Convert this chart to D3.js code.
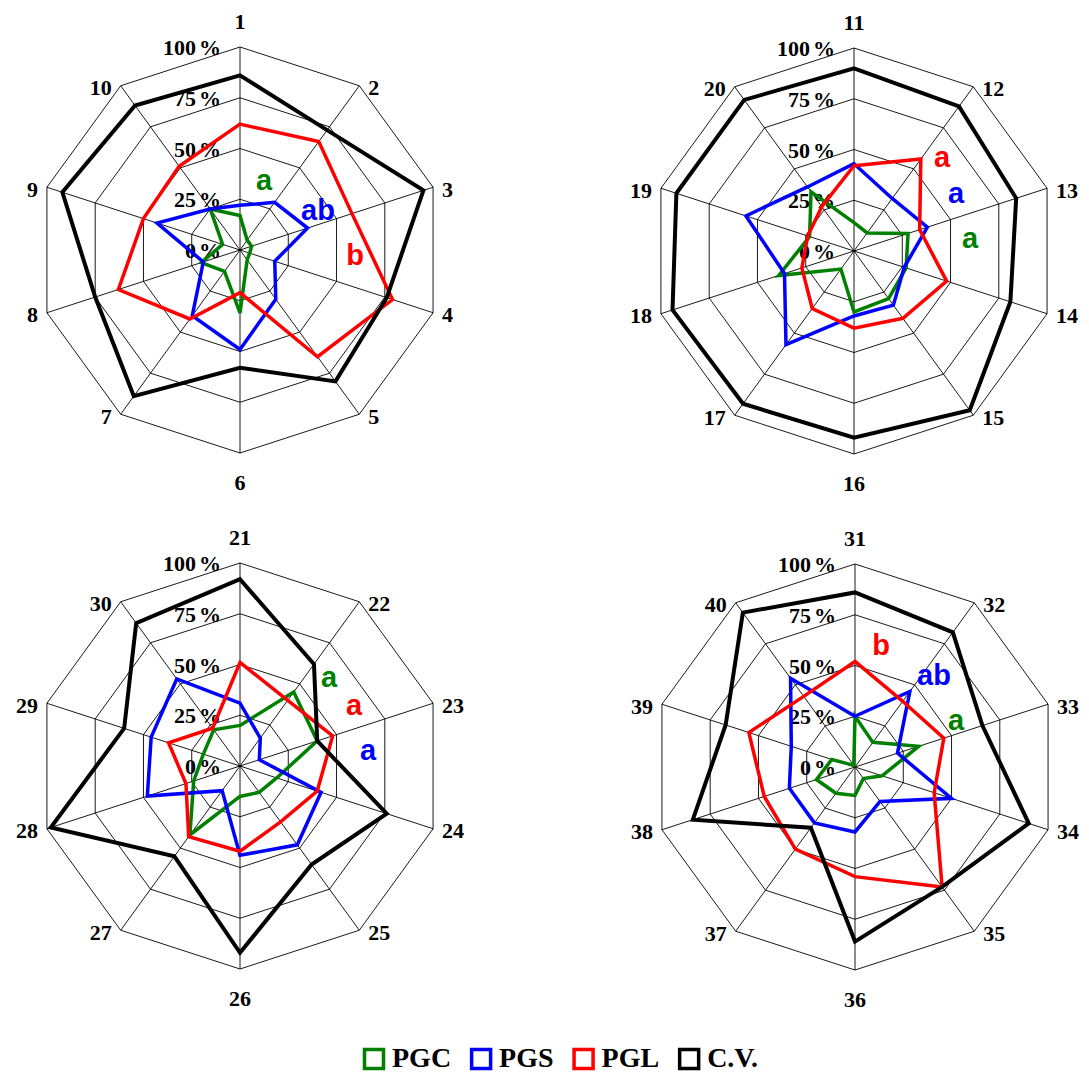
<!DOCTYPE html>
<html>
<head>
<meta charset="utf-8">
<script src="https://cdn.jsdelivr.net/npm/d3@7"></script>
<style>
  body { margin: 0; background: #fff; }
</style>
</head>
<body>
<div id="my_dataviz"></div>
<script>
// values in %, axes clockwise from the top
const series = ['PGC', 'PGS', 'PGL', 'C.V.'];
const levels = [0, 25, 50, 75, 100];

const axes1 = ['1', '2', '3', '4', '5', '6', '7', '8', '9', '10'];
const pgc1 = [17, 6, 6, 5, 6, 31, 13, 20, 9, 25];
const pgs1 = [22, 29, 35, 18, 30, 49, 40, 19, 43, 25];
const pgl1 = [62, 66, 58, 79, 65, 21, 42, 63, 50, 51];
const cv1  = [86, 73, 95, 76, 80, 58, 89, 75, 92, 88];
const letters1 = ['a', 'ab', 'b'];

const axes2 = ['11', '12', '13', '14', '15', '16', '17', '18', '19', '20'];
const pgc2 = [14, 11, 28, 27, 29, 30, 11, 39, 23, 36];
const pgs2 = [43, 32, 38, 26, 33, 32, 57, 36, 56, 39];
const pgl2 = [42, 56, 34, 48, 41, 38, 35, 27, 24, 27];
const cv2  = [90, 88, 84, 81, 97, 92, 93, 94, 92, 92];
const letters2 = ['a', 'a', 'a'];

const axes3 = ['21', '22', '23', '24', '25', '26', '27', '28', '29', '30'];
const pgc3 = [20, 45, 40, 19, 16, 15, 42, 24, 19, 22];
const pgs3 = [31, 17, 10, 42, 48, 44, 15, 48, 46, 53];
const pgl3 = [51, 40, 48, 40, 34, 42, 43, 28, 37, 23];
const cv3  = [92, 62, 40, 76, 60, 92, 55, 98, 60, 87];
const letters3 = ['a', 'a', 'a'];

const axes4 = ['31', '32', '33', '34', '35', '36', '37', '38', '39', '40'];
const pgc4 = [25, 15, 33, 14, 7, 14, 16, 20, 12, 1];
const pgs4 = [25, 46, 22, 50, 21, 32, 34, 34, 33, 54];
const pgl4 = [52, 40, 46, 41, 73, 54, 50, 47, 55, 43];
const cv4  = [86, 82, 66, 90, 73, 86, 37, 84, 67, 94];
const letters4 = ['b', 'ab', 'a'];

// Constant
const width = 1089;
const height = 1074;
const radius = 203;
const serif = `"Liberation Serif", "Times New Roman", serif`;
const sans = `"Liberation Sans", Arial, sans-serif`;
const colorMap = {
    'PGC' : '#008000',
    'PGS' : '#0000ff',
    'PGL' : '#ff0000',
    'C.V.' : '#000000'
};

const rScale = d3.scaleLinear().domain([0, 100]).range([0, radius]);
const aScale = d3.scaleLinear().domain([0, 10]).range([0, 2 * Math.PI]);

// chart centres, letter offsets (letter colour order differs per panel)
const panels = [
    {cx: 240, cy: 250, axes: axes1, values: [pgc1, pgs1, pgl1, cv1], letters: letters1,
     letterColors: ['PGC', 'PGS', 'PGL'], letterPos: [[24, -60], [78, -30], [115, 15]]},
    {cx: 854, cy: 251, axes: axes2, values: [pgc2, pgs2, pgl2, cv2], letters: letters2,
     letterColors: ['PGL', 'PGS', 'PGC'], letterPos: [[88, -84], [102, -48], [116, -3]]},
    {cx: 240, cy: 766, axes: axes3, values: [pgc3, pgs3, pgl3, cv3], letters: letters3,
     letterColors: ['PGC', 'PGL', 'PGS'], letterPos: [[89, -79], [114, -51], [128, -6]]},
    {cx: 855, cy: 767, axes: axes4, values: [pgc4, pgs4, pgl4, cv4], letters: letters4,
     letterColors: ['PGL', 'PGS', 'PGC'], letterPos: [[26, -112], [79, -82], [101, -37]]}
];

const radial = d3.lineRadial()
    .angle((d, i) => aScale(i))
    .radius(d => rScale(d))
    .curve(d3.curveLinearClosed);

const svg = d3.select('#my_dataviz')
    .append('svg')
        .attr('width', width)
        .attr('height', height);

const drawPanel = (p) => {
    const g = svg.append('g')
        .attr('transform', `translate(${p.cx},${p.cy})`);

    // rings
    levels.filter(l => l > 0).forEach(l => {
        g.append('path')
            .attr('d', radial(d3.range(10).map(() => l)))
            .attr('fill', 'none')
            .attr('stroke', '#000')
            .attr('stroke-width', 0.9);
    });

    // spokes
    g.selectAll('.spoke')
        .data(d3.range(10))
        .join('line')
            .attr('class', 'spoke')
            .attr('x1', 0)
            .attr('y1', 0)
            .attr('x2', i => rScale(100) * Math.sin(aScale(i)))
            .attr('y2', i => -rScale(100) * Math.cos(aScale(i)))
            .attr('stroke', '#000')
            .attr('stroke-width', 0.9);

    // axis labels
    g.selectAll('.axisLabel')
        .data(p.axes)
        .join('text')
            .attr('class', 'axisLabel')
            .attr('x', (d, i) => {
                const s = Math.sin(aScale(i));
                const x = rScale(100) * s;
                return Math.abs(s) < 0.1 ? x : x + (s > 0 ? 9 : -9);
            })
            .attr('y', (d, i) => {
                const c = Math.cos(aScale(i));
                const y = -rScale(100) * c;
                if (c > 0.9) return y - 26;
                if (c < -0.9) return y + 29;
                return y + 2;
            })
            .attr('text-anchor', (d, i) => {
                const s = Math.sin(aScale(i));
                return Math.abs(s) < 0.1 ? 'middle' : (s > 0 ? 'start' : 'end');
            })
            .attr('dominant-baseline', 'central')
            .style('font', `bold 22px ${serif}`)
            .text(d => d);

    // level labels
    const lv = g.selectAll('.levelLabel')
        .data(levels)
        .join('text')
            .attr('class', 'levelLabel')
            .attr('x', -19)
            .attr('y', d => -rScale(d))
            .attr('text-anchor', 'end')
            .attr('dominant-baseline', 'central')
            .style('font', `bold 22px ${serif}`);
    lv.append('tspan').text(d => d);
    lv.append('tspan').attr('dx', 3).text('%');

    // series
    series.forEach((s, k) => {
        g.append('path')
            .attr('d', radial(p.values[k]))
            .attr('fill', 'none')
            .attr('stroke', colorMap[s])
            .attr('stroke-width', s == 'C.V.' ? 4 : 3.5)
            .attr('stroke-linejoin', 'miter');
    });

    // significance letters
    p.letters.forEach((t, k) => {
        g.append('text')
            .attr('x', p.letterPos[k][0])
            .attr('y', p.letterPos[k][1])
            .attr('text-anchor', 'middle')
            .attr('fill', colorMap[p.letterColors[k]])
            .style('font', `bold 29px ${sans}`)
            .text(t);
    });
};

panels.forEach(drawPanel);

// legend
let lx = 363;
series.forEach(s => {
    svg.append('rect')
        .attr('x', lx + 1.5)
        .attr('y', 1049.5)
        .attr('width', 19)
        .attr('height', 19)
        .attr('fill', 'none')
        .attr('stroke', colorMap[s])
        .attr('stroke-width', 3.5);
    const t = svg.append('text')
        .attr('x', lx + 29)
        .attr('y', 1067)
        .style('font', `bold 28px ${serif}`)
        .text(s);
    lx += 29 + t.node().getComputedTextLength() + 19;
});
</script>
</body>
</html>
